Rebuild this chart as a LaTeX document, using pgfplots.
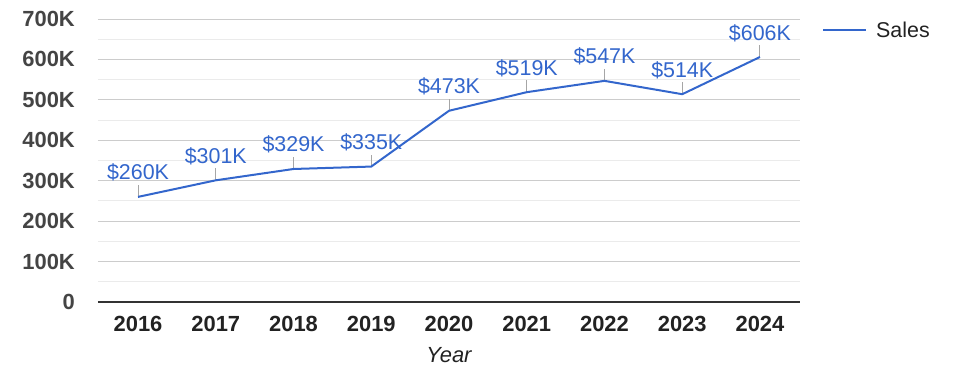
\documentclass[border=0pt]{standalone}
\usepackage{pgfplots}
\pgfplotsset{compat=1.18}
\usepackage{fontspec}
\setmainfont{Liberation Sans}
\definecolor{gblue}{HTML}{3366CC}
\definecolor{majgrid}{HTML}{CCCCCC}
\definecolor{mingrid}{HTML}{EBEBEB}
\definecolor{ylab}{HTML}{444444}
\definecolor{xlab}{HTML}{222222}
\begin{document}
\begin{tikzpicture}
\path[use as bounding box] (-98bp,-76bp) rectangle (877bp,302bp);
\begin{axis}[
  scale only axis,
  width=702bp, height=283bp,
  xmin=-0.515, xmax=8.515,
  ymin=0, ymax=700,
  axis line style={draw=none},
  xtick={0,1,2,3,4,5,6,7,8},
  xticklabels={2016,2017,2018,2019,2020,2021,2022,2023,2024},
  ytick={0,100,200,300,400,500,600,700},
  yticklabels={0,100K,200K,300K,400K,500K,600K,700K},
  minor ytick={50,150,250,350,450,550,650},
  major tick length=0pt, minor tick length=0pt,
  ymajorgrids, yminorgrids,
  major grid style={majgrid, line width=1bp},
  minor grid style={mingrid, line width=1bp},
  xticklabel style={font=\fontsize{22}{26}\selectfont\bfseries, text=xlab, anchor=base, yshift=-29bp},
  yticklabel style={font=\fontsize{22}{26}\selectfont\bfseries, text=ylab, anchor=east, inner sep=0pt, xshift=-23bp},
  xlabel={Year},
  xlabel style={font=\fontsize{22}{26}\selectfont\itshape, text=xlab, anchor=base, at={(axis description cs:0.5,0)}, yshift=-60bp},
  legend style={at={(axis description cs:1.0313,0.961)}, anchor=west, draw=none, fill=none, inner sep=0pt,
    font=\fontsize{21.5}{25}\selectfont, text=xlab,
    legend cell align=left,
    nodes={inner xsep=9bp}},
  legend image code/.code={\draw[#1] (0bp,0bp) -- (43bp,0bp);},
  clip=false,
]
\addplot[draw=none, forget plot, error bars/.cd, y dir=plus, y fixed=29.7,
  error mark=none, error bar style={draw=gray!70, line width=1bp}]
  coordinates {(0,260) (1,301) (2,329) (3,335) (4,473) (5,519) (6,547) (7,514) (8,606)};
\addplot[gblue, line width=2bp, mark=none,
  nodes near coords={\$\pgfmathprintnumber[assume math mode=true]{\pgfplotspointmeta}K},
  point meta=y,
  every node near coord/.style={anchor=base, yshift=17bp, font=\fontsize{21.5}{25}\selectfont, text=gblue, inner sep=0pt}]
  coordinates {(0,260) (1,301) (2,329) (3,335) (4,473) (5,519) (6,547) (7,514) (8,606)};
\addlegendentry{Sales}
\draw[draw=black!80, line width=1.3bp] (axis cs:-0.515,0) -- (axis cs:8.515,0);
\end{axis}
\end{tikzpicture}
\end{document}
